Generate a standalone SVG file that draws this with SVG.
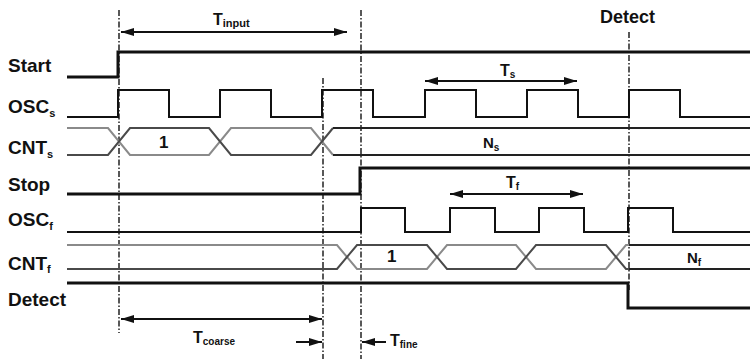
<svg xmlns="http://www.w3.org/2000/svg" width="750" height="359" viewBox="0 0 750 359">
<defs>
<marker id="ah" viewBox="0 0 13 8" refX="13" refY="4" markerWidth="13" markerHeight="8" markerUnits="userSpaceOnUse" orient="auto-start-reverse"><path d="M0,0 L13,4 L0,8 Z" fill="#111"/></marker>
</defs>
<style>
.lbl{font-family:"Liberation Sans",Arial,sans-serif;font-weight:bold;fill:#111}
.sig{fill:none;stroke:#111;stroke-width:2;stroke-linejoin:miter}
.thick{stroke-width:3}
.bus1{fill:none;stroke:#8a8a8a;stroke-width:2}
.bus2{fill:none;stroke:#4a4a4a;stroke-width:2}
.bus3{fill:none;stroke:#222;stroke-width:2}
.dash{stroke:#222;stroke-width:1.5;stroke-dasharray:6,2,1.5,2;fill:none}
.arr{stroke:#111;stroke-width:2;fill:none}
</style>
<rect width="750" height="359" fill="#fff"/>

<g id="dashed-lines">
<line class="dash" x1="119" y1="10" x2="119" y2="333"/>
<line class="dash" x1="323" y1="78" x2="323" y2="359"/>
<line class="dash" x1="361" y1="10" x2="361" y2="359"/>
<line class="dash" x1="629" y1="32" x2="629" y2="290"/>
</g>

<g id="start">
<text class="lbl" x="8" y="72" font-size="19">Start</text>
<path class="sig thick" d="M67,77 H118 V52 H750"/>
</g>

<g id="oscs">
<text class="lbl" x="8" y="113" font-size="19">OSC<tspan font-size="11" dy="4">s</tspan></text>
<path class="sig" d="M67,117 H118 V90 H169 V117 H220 V90 H271 V117 H322 V90 H373 V117 H425 V90 H476 V117 H527 V90 H578 V117 H629 V90 H680 V117 H750"/>
</g>

<g id="cnts">
<text class="lbl" x="8" y="154" font-size="19">CNT<tspan font-size="11" dy="4">s</tspan></text>
<path class="bus1" d="M67,128 H108 L130,155 H209 L231,128 H311 L333,155"/>
<path class="bus2" d="M67,155 H108 L130,128 H209 L231,155 H311 L333,128"/>
<path class="bus3" d="M333,128 H750 M333,155 H750"/>
<text class="lbl" x="159" y="148" font-size="17">1</text>
<text class="lbl" x="483" y="148" font-size="15">N<tspan font-size="10" dy="3">s</tspan></text>
</g>

<g id="stop">
<text class="lbl" x="8" y="191" font-size="19">Stop</text>
<path class="sig thick" d="M67,194 H360 V168 H750"/>
</g>

<g id="oscf">
<text class="lbl" x="8" y="226" font-size="19">OSC<tspan font-size="11" dy="4">f</tspan></text>
<path class="sig" d="M67,232 H361 V208 H405 V232 H450 V208 H495 V232 H539 V208 H584 V232 H628 V208 H673 V232 H750"/>
</g>

<g id="cntf">
<text class="lbl" x="8" y="270" font-size="19">CNT<tspan font-size="11" dy="3">f</tspan></text>
<path class="bus1" d="M67,245 H337 L357,269 H427 L447,245 H516 L536,269 H606 L626,245 H629"/>
<path class="bus2" d="M67,269 H337 L357,245 H427 L447,269 H516 L536,245 H606 L626,269 H629"/>
<path class="bus3" d="M629,245 H750 M629,269 H750"/>
<text class="lbl" x="387" y="262" font-size="17">1</text>
<text class="lbl" x="687" y="263" font-size="15">N<tspan font-size="10" dy="3">f</tspan></text>
</g>

<g id="detect">
<text class="lbl" x="8" y="306" font-size="19">Detect</text>
<text class="lbl" x="600" y="23" font-size="18">Detect</text>
<path class="sig thick" d="M67,283 H628 V308 H750"/>
</g>

<g id="connectors">
<line class="arr" x1="121" y1="32" x2="347" y2="32" marker-start="url(#ah)" marker-end="url(#ah)"/>
<line class="arr" x1="425" y1="81" x2="577" y2="81" marker-start="url(#ah)" marker-end="url(#ah)"/>
<line class="arr" x1="450" y1="194" x2="583" y2="194" marker-start="url(#ah)" marker-end="url(#ah)"/>
<line class="arr" x1="121" y1="319" x2="322" y2="319" marker-start="url(#ah)" marker-end="url(#ah)"/>
<line class="arr" x1="296" y1="342" x2="322" y2="342" marker-end="url(#ah)"/>
<line class="arr" x1="386" y1="342" x2="362" y2="342" marker-end="url(#ah)"/>
</g>

<g id="time-labels">
<text class="lbl" x="213" y="25" font-size="16">T<tspan font-size="11" dy="2">input</tspan></text>
<text class="lbl" x="500" y="76" font-size="16">T<tspan font-size="10" dy="2">s</tspan></text>
<text class="lbl" x="506" y="188" font-size="16">T<tspan font-size="10" dy="2">f</tspan></text>
<text class="lbl" x="193" y="343" font-size="16">T<tspan font-size="10" dy="2">coarse</tspan></text>
<text class="lbl" x="390" y="346" font-size="16">T<tspan font-size="10" dy="2">fine</tspan></text>
</g>
</svg>
